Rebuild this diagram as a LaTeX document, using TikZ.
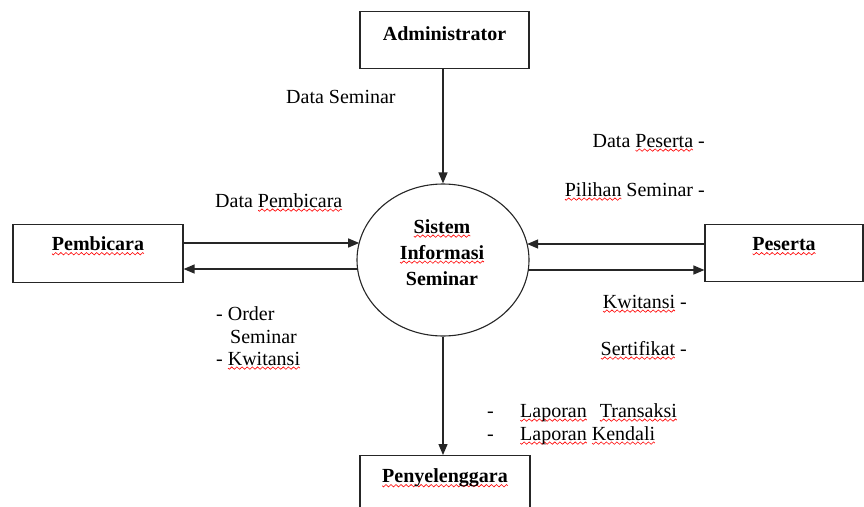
\documentclass[tikz,border=0pt]{standalone}
\usepackage{fontspec}
\setmainfont{Liberation Serif}
\usetikzlibrary{arrows.meta,shapes.geometric}
% red wavy underline for flagged words
\newsavebox\wavebox
\newsavebox\wordbox
\newcommand\redw[1]{\sbox\wordbox{#1}%
  \rlap{\raisebox{-4.5pt}[0pt][0pt]{\hbox to \wd\wordbox{\xleaders\copy\wavebox\hfill}}}\usebox\wordbox}
\tikzset{
  flow/.style={line width=1.3pt, draw=black!85, -{Triangle[length=11pt,width=9pt]}},
  entity/.style={draw=black!85, line width=1.2pt, inner sep=0pt, anchor=north},
  lbl/.style={inner sep=0pt, font=\fontsize{20}{23}\selectfont},
  blbl/.style={lbl, font=\fontsize{20}{23}\selectfont\bfseries},
}
\begin{document}
\sbox\wavebox{\begin{pgfpicture}%
  \pgfpathrectangle{\pgfpoint{0pt}{-1.4pt}}{\pgfpoint{5pt}{2.8pt}}%
  \pgfusepath{use as bounding box}%
  \pgfsetlinewidth{0.6pt}\pgfsetstrokecolor{red}%
  \pgfpathmoveto{\pgfpoint{0pt}{0pt}}%
  \pgfpathlineto{\pgfpoint{1.25pt}{-1.2pt}}%
  \pgfpathlineto{\pgfpoint{3.75pt}{1.2pt}}%
  \pgfpathlineto{\pgfpoint{5pt}{0pt}}%
  \pgfusepath{stroke}%
\end{pgfpicture}}%
\begin{tikzpicture}[x=1pt, y=-1pt]
  \clip (0,0) rectangle (864,506);
  \fill[white] (0,0) rectangle (864,506);

  % external entities
  \node[entity, minimum width=169pt, text height=29pt, text depth=28pt,
        font=\fontsize{20}{23}\selectfont\bfseries] (adm) at (444.5,11) {Administrator};
  \node[entity, minimum width=170pt, text height=26pt, text depth=32pt,
        font=\fontsize{20}{23}\selectfont\bfseries] (pem) at (98,224) {\redw{Pembicara}};
  \node[entity, minimum width=158pt, text height=26pt, text depth=31pt,
        font=\fontsize{20}{23}\selectfont\bfseries] (pes) at (784,224) {\redw{Peserta}};
  \node[entity, minimum width=170pt, text height=27pt, text depth=50pt,
        font=\fontsize{20}{23}\selectfont\bfseries] (pen) at (445,455) {\redw{Penyelenggara}};

  % the process
  \node[draw=black!85, line width=1.1pt, ellipse, minimum width=172pt, minimum height=152pt,
        inner sep=0pt] (sys) at (443,260) {};
  \node[blbl, anchor=base] (sys1) at (442,233) {\redw{Sistem}};
  \node[blbl, anchor=base] (sys2) at (442,259) {\redw{Informasi}};
  \node[blbl, anchor=base] (sys3) at (442,285) {Seminar};

  % points on the process border
  \coordinate (sysLA) at ([shift={(-83.8,-17)}]sys.center);
  \coordinate (sysLB) at ([shift={(-85.4,9)}]sys.center);
  \coordinate (sysRA) at ([shift={(84.1,-16)}]sys.center);
  \coordinate (sysRB) at ([shift={(85.25,10)}]sys.center);

  % data flows
  \draw[flow] (adm.south -| sys.north) -- (sys.north);
  \draw[flow] (pem.east |- sysLA) -- (sysLA);
  \draw[flow] (sysLB) -- (pem.east |- sysLB);
  \draw[flow] (pes.west |- sysRA) -- (sysRA);
  \draw[flow] (sysRB) -- (pes.west |- sysRB);
  \draw[flow] (sys.south) -- (sys.south |- pen.north);

  % flow labels
  \node[lbl, anchor=base west] (ldsem) at (286,103) {Data Seminar};
  \node[lbl, anchor=base west] (ldpem) at (215,207) {Data \redw{Pembicara}};
  \node[lbl, anchor=base west] (lord1) at (216,320) {- Order};
  \node[lbl, anchor=base west] (lord2) at (230,343) {Seminar};
  \node[lbl, anchor=base west] (lkw1) at (216,365) {- \redw{Kwitansi}};
  \node[lbl, anchor=base east] (ldpes) at (705,147) {Data \redw{Peserta} -};
  \node[lbl, anchor=base east] (lpil) at (705,196) {\redw{Pilihan} Seminar -};
  \node[lbl, anchor=base east] (lkw2) at (687,308) {\redw{Kwitansi} -};
  \node[lbl, anchor=base east] (lser) at (687,355) {\redw{Sertifikat} -};
  \node[lbl, anchor=base west] (ldash1) at (487,417) {-};
  \node[lbl, anchor=base west] (ldash2) at (487,440) {-};
  \node[lbl, anchor=base west] (llap1) at (520,417) {\redw{Laporan}\hspace{0.4em} \redw{Transaksi}};
  \node[lbl, anchor=base west] (llap2) at (520,440) {\redw{Laporan} \redw{Kendali}};
\end{tikzpicture}
\end{document}
